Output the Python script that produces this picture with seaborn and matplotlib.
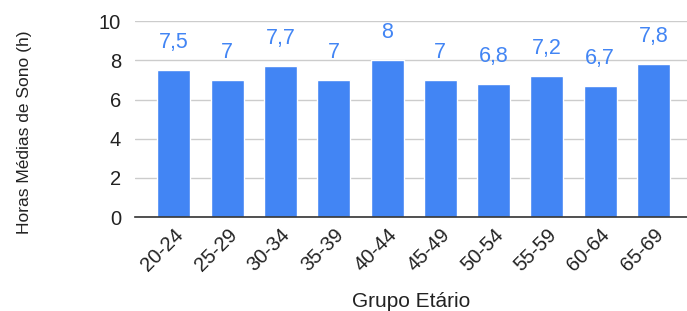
import pandas as pd
import matplotlib.pyplot as plt
import seaborn as sns

grupos = ['20-24', '25-29', '30-34', '35-39', '40-44', '45-49', '50-54', '55-59', '60-64', '65-69']
horas = [7.5, 7, 7.7, 7, 8, 7, 6.8, 7.2, 6.7, 7.8]

df = pd.DataFrame({'Grupo Etário': grupos, 'Horas': horas})

sns.set_style('white')
plt.rcParams['font.family'] = ['Liberation Sans', 'DejaVu Sans']

fig = plt.figure(figsize=(6.87, 3.11), dpi=100)
ax = fig.add_axes([0.1965, 0.302, 0.8035, 0.63])

blue = '#4285F4'
sns.barplot(data=df, x='Grupo Etário', y='Horas', color=blue, saturation=1,
            width=0.62, ax=ax, zorder=3)

# value labels above bars
for i, v in enumerate(horas):
    txt = f'{v:g}'.replace('.', ',')
    ax.annotate(txt, (i, v), xytext=(0, 20), textcoords='offset points',
                ha='center', va='center', color=blue, fontsize=15.5)

ax.set_ylim(0, 10)
ax.set_xlim(-0.73, 9.63)
ax.set_yticks([0, 2, 4, 6, 8, 10])
ax.grid(axis='y', color='#cccccc', linewidth=1, zorder=0)
for s in ['top', 'right', 'left']:
    ax.spines[s].set_visible(False)
ax.spines['bottom'].set_color('#333333')
ax.spines['bottom'].set_linewidth(1.2)
ax.spines['bottom'].set_zorder(4)
ax.tick_params(axis='y', length=0, labelsize=14.5, colors='#222222', pad=10)
ax.tick_params(axis='x', length=0, labelsize=14.5, colors='#222222', pad=6)
plt.setp(ax.get_xticklabels(), rotation=45, ha='right', rotation_mode='anchor')

ax.set_xlabel('Grupo Etário', fontsize=15, color='#222222', labelpad=12)
ax.set_ylabel('Horas Médias de Sono (h)', fontsize=12.5, color='#222222')
ax.yaxis.set_label_coords(-0.187, 0.434)

fig.savefig('out.png', dpi=100)
